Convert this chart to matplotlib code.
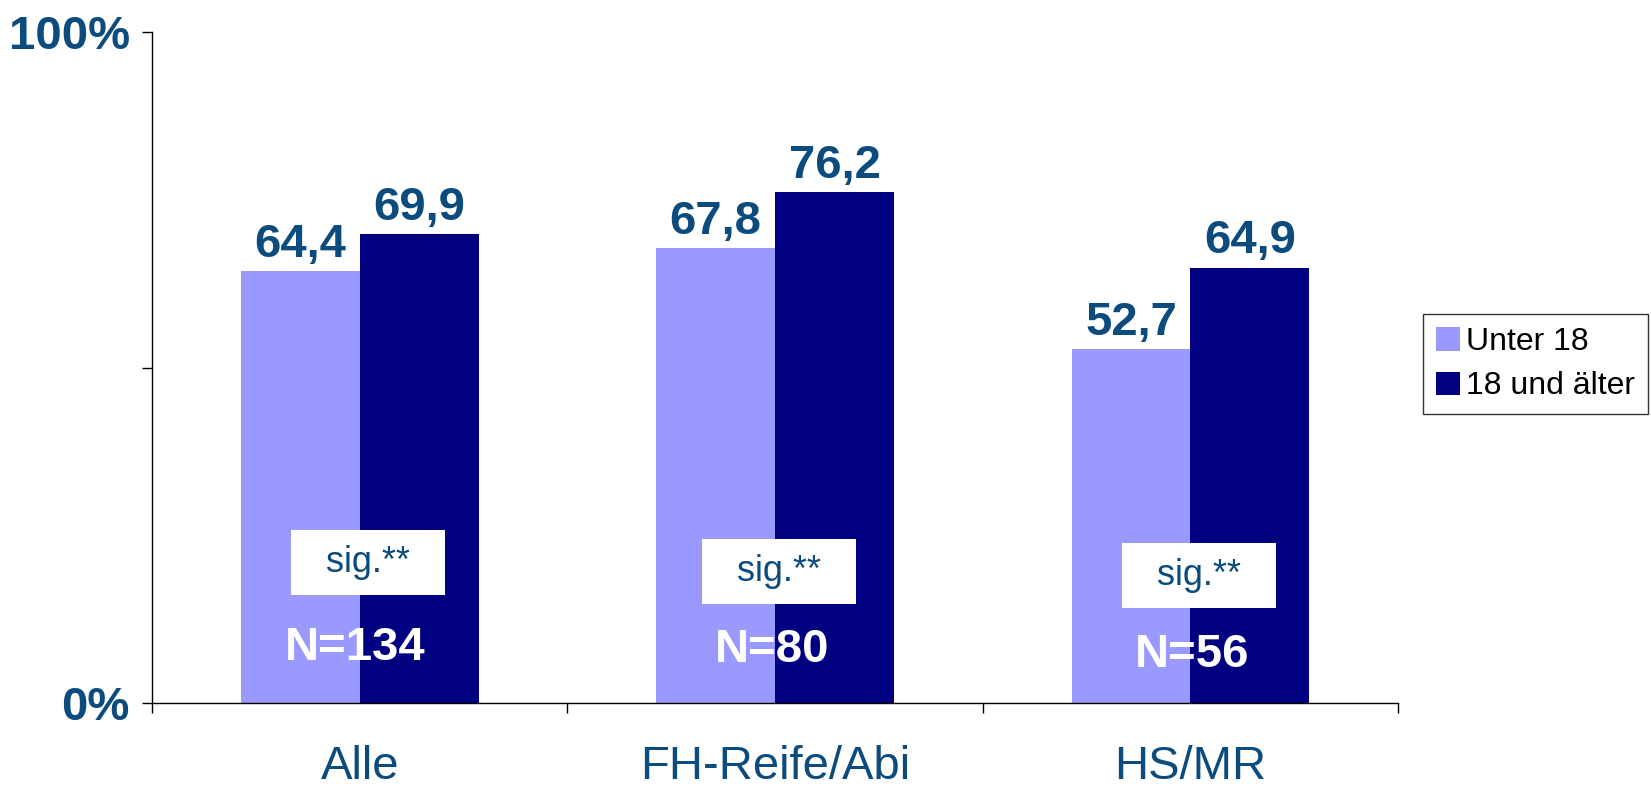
import matplotlib.pyplot as plt
import numpy as np
from matplotlib.patches import Rectangle, Patch

plt.rcParams['font.family'] = ['Liberation Sans', 'DejaVu Sans']

categories = ["Alle", "FH-Reife/Abi", "HS/MR"]
unter18 = [64.4, 67.8, 52.7]
ab18 = [69.9, 76.2, 64.9]
n_labels = ["N=134", "N=80", "N=56"]
sig_labels = ["sig.**", "sig.**", "sig.**"]
series_names = ["Unter 18", "18 und älter"]

light = '#9999FF'
dark = '#000080'
txt = '#0B4B7E'

fig = plt.figure(figsize=(16.51, 7.90), dpi=100)
ax = fig.add_axes([0.0921, 0.1101, 0.7547, 0.8494])

x = np.arange(len(categories))
w = 0.286
ax.bar(x - w / 2, unter18, w, color=light)
ax.bar(x + w / 2, ab18, w, color=dark)

for xi, v in zip(x - w / 2, unter18):
    ax.annotate(f"{v:.1f}".replace('.', ','), (xi, v), xytext=(0, 3),
                textcoords='offset points', ha='center', va='bottom',
                fontsize=34, fontweight='bold', color=txt)
for xi, v in zip(x + w / 2, ab18):
    ax.annotate(f"{v:.1f}".replace('.', ','), (xi, v), xytext=(0, 3),
                textcoords='offset points', ha='center', va='bottom',
                fontsize=34, fontweight='bold', color=txt)

# sig boxes and N labels
sig_dx = [0.02, 0.01, 0.02]
sig_y = [20.9, 19.6, 19.0]
n_dx = [-0.01, -0.007, 0.005]
n_y = [8.2, 7.9, 7.2]
for i in range(len(categories)):
    cx = x[i] + sig_dx[i]
    ax.add_patch(Rectangle((cx - 0.185, sig_y[i] - 4.85), 0.37, 9.7,
                           facecolor='white', edgecolor='none', zorder=3))
    ax.text(cx, sig_y[i], sig_labels[i], ha='center', va='center',
            fontsize=26, color=txt, zorder=4)
    ax.text(x[i] + n_dx[i], n_y[i], n_labels[i], ha='center', va='center',
            fontsize=34, fontweight='bold', color='white', zorder=4)

ax.set_xlim(-0.5, 2.5)
ax.set_ylim(0, 100)

ax.spines['top'].set_visible(False)
ax.spines['right'].set_visible(False)
ax.spines['left'].set_linewidth(1)
ax.spines['bottom'].set_linewidth(1)

ax.set_yticks([0, 50, 100])
ax.set_yticklabels(['0%', '', '100%'], fontsize=34, fontweight='bold', color=txt)
ax.tick_params(axis='y', length=7, width=1, pad=9)

ax.set_xticks([-0.5, 0.5, 1.5, 2.5])
ax.set_xticklabels([])
ax.tick_params(axis='x', which='major', length=7, width=1)
ax.set_xticks(x, minor=True)
ax.set_xticklabels(categories, minor=True, fontsize=34, color=txt)
ax.tick_params(axis='x', which='minor', length=0, pad=30)

handles = [Patch(facecolor=light), Patch(facecolor=dark)]
leg = fig.legend(handles, series_names, loc='center left',
                 bbox_to_anchor=(0.862, 0.539), fontsize=23, frameon=True,
                 fancybox=False, edgecolor='black', handlelength=0.75,
                 handleheight=0.75, handletextpad=0.2, labelspacing=0.45,
                 borderpad=0.4, borderaxespad=0)
leg.get_frame().set_linewidth(1)

fig.savefig('out.png', dpi=100)
